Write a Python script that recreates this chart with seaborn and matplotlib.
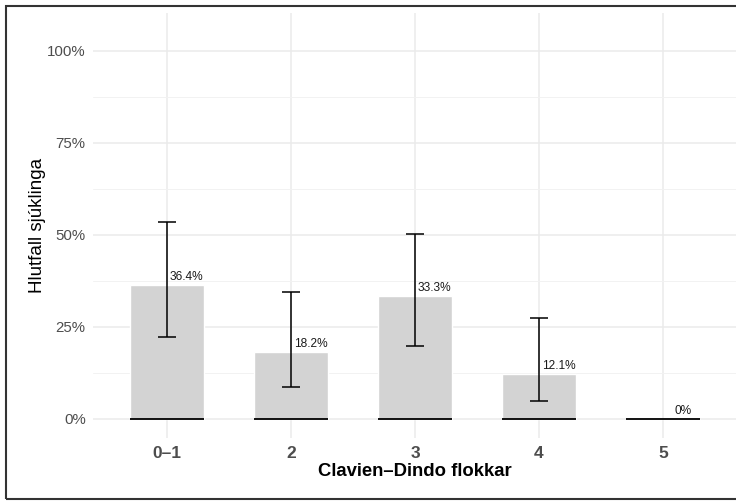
import matplotlib
matplotlib.use("Agg")
import matplotlib.pyplot as plt
import seaborn as sns
import pandas as pd
from matplotlib.patches import Rectangle
from matplotlib.ticker import FuncFormatter, MultipleLocator

# data
flokkar = ["0–1", "2", "3", "4", "5"]
hlutfall = [36.4, 18.2, 33.3, 12.1, 0.0]
ci_lagt = [22.2, 8.6, 19.8, 4.8, 0.0]
ci_hatt = [53.4, 34.4, 50.3, 27.3, 0.0]
merki = ["36.4%", "18.2%", "33.3%", "12.1%", "0%"]

df = pd.DataFrame({"flokkur": flokkar, "hlutfall": hlutfall})

sns.set_theme(style="whitegrid")
plt.rcParams["font.family"] = ["Liberation Sans", "DejaVu Sans"]

fig = plt.figure(figsize=(7.36, 5.01), dpi=100)
ax = fig.add_axes([92.6 / 736, 63 / 501, (737.4 - 92.6) / 736, (438 - 13) / 501])

sns.barplot(data=df, x="flokkur", y="hlutfall", color="#d3d3d3", width=0.6,
            saturation=1, ax=ax, zorder=2)

# black baseline under each bar
for i in range(len(flokkar)):
    ax.plot([i - 0.3, i + 0.3], [0, 0], color="black", lw=1.3, zorder=3,
            solid_capstyle="butt")

# confidence intervals
for i in range(len(flokkar)):
    if ci_hatt[i] > 0:
        ax.errorbar(i, hlutfall[i],
                    yerr=[[hlutfall[i] - ci_lagt[i]], [ci_hatt[i] - hlutfall[i]]],
                    fmt="none", ecolor="black", elinewidth=1.1, capsize=6.8,
                    capthick=1.1, zorder=4)

for i, txt in enumerate(merki):
    ax.text(i + 0.16, hlutfall[i] + 0.6, txt, ha="center", va="bottom",
            fontsize=8.6, color="#1a1a1a", zorder=5)

ax.set_xlim(-0.6, 4.6)
ax.set_ylim(-5.2, 110.3)
ax.yaxis.set_major_locator(MultipleLocator(25))
ax.yaxis.set_minor_locator(MultipleLocator(12.5))
ax.yaxis.set_major_formatter(FuncFormatter(lambda v, p: f"{v:.0f}%"))

ax.grid(True, which="major", color="#ebebeb", lw=1.1, zorder=0)
ax.grid(True, which="minor", axis="y", color="#f2f2f2", lw=0.7, zorder=0)
ax.set_axisbelow(True)
for s in ax.spines.values():
    s.set_visible(False)
ax.tick_params(axis="both", which="both", length=0)
ax.tick_params(axis="y", labelsize=10.8, labelcolor="#4d4d4d", pad=5)
ax.tick_params(axis="x", labelsize=12.5, labelcolor="#4d4d4d", pad=6)
for lab in ax.get_xticklabels():
    lab.set_fontweight("bold")

ax.set_xlabel("Clavien–Dindo flokkar", fontsize=13.3, fontweight="bold",
              color="black", labelpad=1)
ax.set_ylabel("Hlutfall sjúklinga", fontsize=13.5, color="black", labelpad=1)

# outer border (right side cut off in the reference)
fig.patches.append(Rectangle((5.5 / 736, 2 / 501), 0.999, (495 - 2) / 501,
                             transform=fig.transFigure, fill=False,
                             edgecolor="#333333", lw=1.5, zorder=10))

fig.savefig("out.png", dpi=100)
